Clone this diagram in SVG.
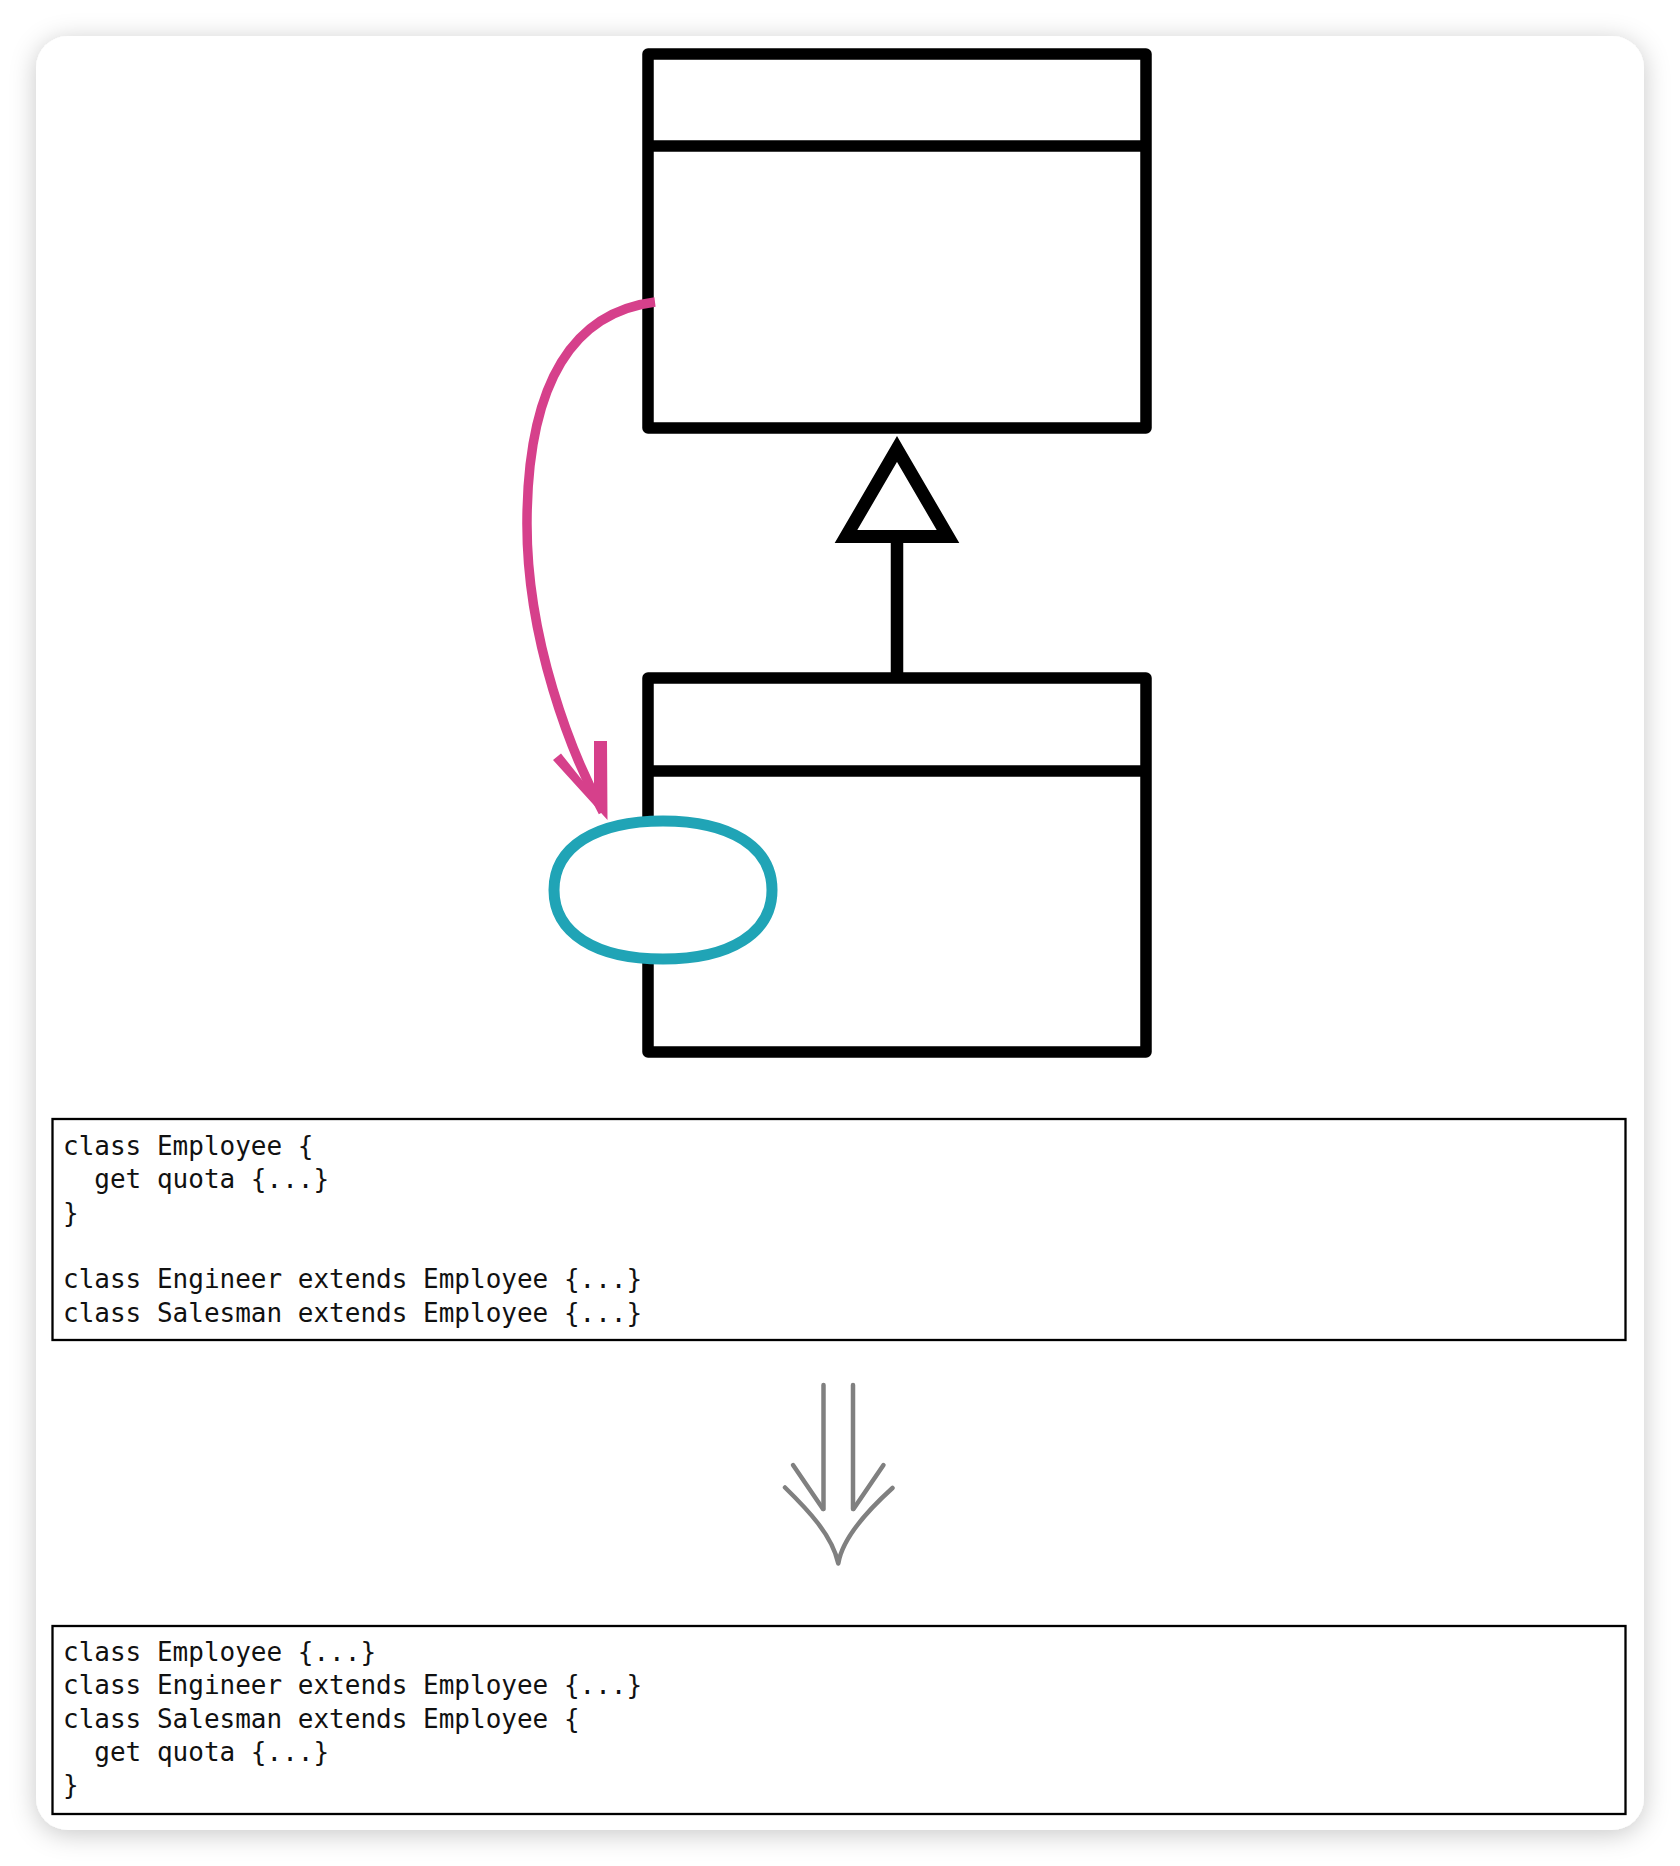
<svg xmlns="http://www.w3.org/2000/svg" width="1680" height="1866" viewBox="0 0 1680 1866">
  <defs>
    <filter id="cardShadow" x="-10%" y="-10%" width="120%" height="120%">
      <feDropShadow dx="0" dy="4" stdDeviation="13" flood-color="#000" flood-opacity="0.22"/>
    </filter>
    <style>
      .uml { fill: #fff; stroke: #000; stroke-width: 11.5; stroke-linejoin: round; }
      .uml-line { stroke: #000; stroke-width: 11.5; fill: none; }
      .code-box { fill: #fff; stroke: #000; stroke-width: 2.3; }
      .code { font-family: "DejaVu Sans Mono", "Liberation Mono", monospace; font-size: 26px; fill: #111; white-space: pre; }
      .pink { fill: none; stroke: #d6408b; stroke-width: 9.5; }
      .grey { fill: none; stroke: #808080; stroke-width: 4.5; stroke-linecap: round; stroke-linejoin: round; }
    </style>
  </defs>

  <rect x="0" y="0" width="1680" height="1866" fill="#ffffff"/>
  <rect id="card" x="36" y="36" width="1608" height="1794" rx="32" ry="32" fill="#ffffff" filter="url(#cardShadow)"/>

  <g id="node-employee">
    <rect class="uml" x="648" y="54" width="498" height="374"/>
    <line class="uml-line" x1="648" y1="146" x2="1146" y2="146"/>
  </g>

  <g id="node-subclass">
    <rect class="uml" x="648" y="678" width="498" height="374"/>
    <line class="uml-line" x1="648" y1="771" x2="1146" y2="771"/>
  </g>

  <g id="connectors">
    <g id="generalization">
      <line x1="897" y1="540" x2="897" y2="678" stroke="#000" stroke-width="12.5"/>
      <path d="M 897 449 L 948 536.5 L 846 536.5 Z" fill="#fff" stroke="#000" stroke-width="13" stroke-linejoin="miter"/>
    </g>
    <g id="move-arrow">
      <path class="pink" d="M 655 302 C 575 312, 528 380, 527 520 C 526 640, 572 755, 603 812"/>
      <polygon points="594,741 607,741 607.5,820 553,760 561,753.5 594,795" fill="#d6408b"/>
    </g>
    <g id="refactor-arrow">
      <line class="grey" x1="823.5" y1="1385" x2="823.5" y2="1509"/>
      <line class="grey" x1="853" y1="1385" x2="853" y2="1509"/>
      <line class="grey" x1="793" y1="1465" x2="823" y2="1509"/>
      <line class="grey" x1="883.5" y1="1465" x2="853.5" y2="1509"/>
      <path class="grey" d="M 785 1487.5 C 808 1510, 832 1535, 838.3 1563.5 C 842 1540, 866 1512, 892.5 1488"/>
    </g>
  </g>

  <g id="node-method">
    <path d="M 663 821 C 730.6 821, 772 847.2, 772 890 C 772 932.8, 730.6 959, 663 959 C 595.4 959, 554 932.8, 554 890 C 554 847.2, 595.4 821, 663 821 Z" fill="#fff" stroke="#20a4b6" stroke-width="11"/>
  </g>

  <g id="code-before">
    <rect class="code-box" x="52.5" y="1119" width="1573" height="221"/>
    <text class="code" x="63" y="1155">class Employee {</text>
    <text class="code" x="63" y="1188.3">  get quota {...}</text>
    <text class="code" x="63" y="1221.6">}</text>
    <text class="code" x="63" y="1288.3">class Engineer extends Employee {...}</text>
    <text class="code" x="63" y="1321.6">class Salesman extends Employee {...}</text>
  </g>

  <g id="code-after">
    <rect class="code-box" x="52.5" y="1626" width="1573" height="188"/>
    <text class="code" x="63" y="1661">class Employee {...}</text>
    <text class="code" x="63" y="1694.3">class Engineer extends Employee {...}</text>
    <text class="code" x="63" y="1727.6">class Salesman extends Employee {</text>
    <text class="code" x="63" y="1761">  get quota {...}</text>
    <text class="code" x="63" y="1794.3">}</text>
  </g>
</svg>
